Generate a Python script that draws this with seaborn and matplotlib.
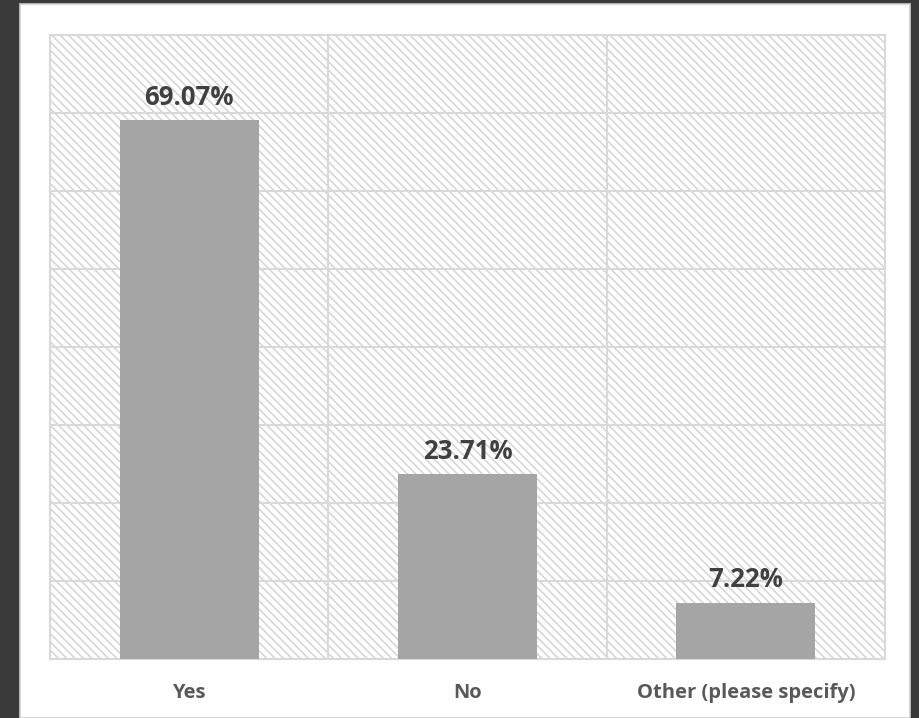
import matplotlib
matplotlib.use("Agg")
import matplotlib.pyplot as plt
from matplotlib.patches import Rectangle
import seaborn as sns
import pandas as pd
import numpy as np

# data
categories = ["Yes", "No", "Other (please specify)"]
percent = [69.07, 23.71, 7.22]
labels = ["69.07%", "23.71%", "7.22%"]

df = pd.DataFrame({"answer": categories, "pct": percent})

plt.rcParams["font.family"] = ["Open Sans", "DejaVu Sans"]
plt.rcParams["hatch.color"] = "#d4d4d4"
plt.rcParams["hatch.linewidth"] = 1.1

fig = plt.figure(figsize=(9.2, 7.18), dpi=100, facecolor="#3a3a3a")

# white card inside the dark frame
fig.patches.append(Rectangle((20 / 920, 0), 890 / 920, 714 / 718,
                             transform=fig.transFigure, facecolor="white",
                             edgecolor="#d0d0d0", linewidth=1.2, zorder=-5))

ax = fig.add_axes([50 / 920, 59 / 718, 835 / 920, 624 / 718])
ax.set_zorder(2)
ax.patch.set_facecolor("white")
ax.patch.set_edgecolor("#d4d4d4")
ax.patch.set_hatch("\\\\\\\\")

sns.barplot(data=df, x="answer", y="pct", color="#a5a5a5", width=0.5,
            saturation=1, ax=ax, zorder=3)

ax.set_ylim(0, 80)
ax.set_xlim(-0.5, 2.5)
ax.set_yticks(np.arange(0, 81, 10))
ax.set_yticklabels([])
ax.set_xticks([-0.5, 0.5, 1.5, 2.5], minor=True)
ax.grid(axis="y", which="major", color="#d9d9d9", linewidth=1.5, zorder=1)
ax.grid(axis="x", which="minor", color="#d9d9d9", linewidth=1.5, zorder=1)
ax.grid(axis="x", which="major", visible=False)
ax.set_axisbelow(True)
ax.tick_params(axis="both", which="both", length=0)
ax.tick_params(axis="x", pad=17)
ax.set_xlabel("")
ax.set_ylabel("")
for lbl in ax.get_xticklabels():
    lbl.set_fontsize(14.5)
    lbl.set_fontweight("bold")
    lbl.set_color("#595959")

for spine in ax.spines.values():
    spine.set_color("#d9d9d9")
    spine.set_linewidth(1.5)

for i, (v, t) in enumerate(zip(percent, labels)):
    ax.annotate(t, (i, v), xytext=(0, 11), textcoords="offset points",
                ha="center", va="baseline", fontsize=18.5, fontweight="bold",
                color="#404040")

fig.savefig("out.png", dpi=100, facecolor=fig.get_facecolor())
